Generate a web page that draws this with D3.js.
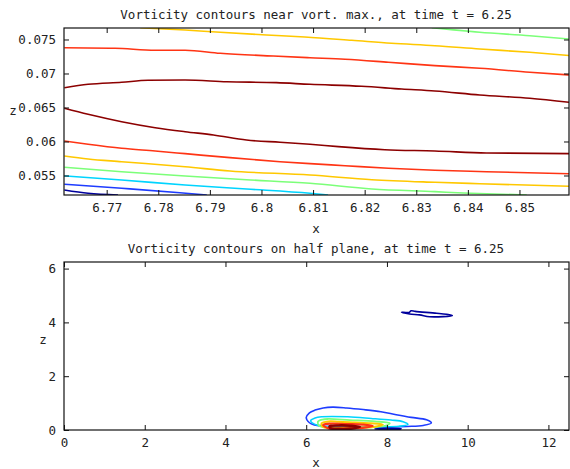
<!DOCTYPE html>
<html><head><meta charset="utf-8">
<script src="https://cdn.jsdelivr.net/npm/d3@7"></script>
<style>
body{margin:0;background:#fff}
text{font-family:"DejaVu Sans Mono","Liberation Mono",monospace;font-size:12.5px;fill:#222}
</style>
</head><body><svg id="c" width="570" height="469"></svg>
<script>
// ---------- data ----------
const topTitle = "Vorticity contours near vort. max., at time t = 6.25";
const bottomTitle = "Vorticity contours on half plane, at time t = 6.25";
const topXTicks = [6.77, 6.78, 6.79, 6.80, 6.81, 6.82, 6.83, 6.84, 6.85];
const topXTickLabels = ["6.77","6.78","6.79","6.8","6.81","6.82","6.83","6.84","6.85"];
const topYTicks = [0.055, 0.06, 0.065, 0.07, 0.075];
const topYTickLabels = ["0.055","0.06","0.065","0.07","0.075"];
const botXTicks = [0, 2, 4, 6, 8, 10, 12];
const botYTicks = [0, 2, 4, 6];

const levelColors = ["#00009c","#1e3cff","#00d4ff","#7cff79","#ffc800","#ff3414","#8c0000"];

// top panel contour lines: [x, z]
const lineNavy = [[6.7618,0.05287],[6.7664,0.05238],[6.7722,0.05213]];
const lineBlue = [[6.7618,0.05371],[6.7729,0.05312],[6.7842,0.05247],[6.7894,0.05213]];
const lineCyan = [[6.7618,0.05493],[6.7729,0.05434],[6.7852,0.05360],[6.7971,0.05301],[6.8094,0.05238],[6.8129,0.05213]];
const lineGreenLow = [[6.7618,0.05621],[6.7729,0.05556],[6.7852,0.05493],[6.7971,0.05438],[6.8094,0.05385],[6.8214,0.05301],[6.8336,0.05262],[6.8391,0.05243],[6.8514,0.05213]];
const lineGreenTop = [[6.8330,0.07674],[6.8423,0.07606],[6.8520,0.07556],[6.8596,0.07507]];
const lineYellowLow = [[6.7618,0.05787],[6.7664,0.05743],[6.7729,0.05703],[6.7852,0.05629],[6.7939,0.05566],[6.8094,0.05507],[6.8214,0.05438],[6.8336,0.05400],[6.8423,0.05379],[6.8596,0.05341]];
const lineYellowTop = [[6.7765,0.07674],[6.7852,0.07640],[6.7920,0.07606],[6.8010,0.07566],[6.8084,0.07537],[6.8175,0.07488],[6.8252,0.07444],[6.8336,0.07409],[6.8423,0.07360],[6.8520,0.07312],[6.8596,0.07265]];
const lineRedLow = [[6.7618,0.06007],[6.7664,0.05959],[6.7729,0.05900],[6.7794,0.05860],[6.7852,0.05821],[6.7939,0.05762],[6.8036,0.05703],[6.8094,0.05674],[6.8162,0.05644],[6.8246,0.05606],[6.8336,0.05576],[6.8436,0.05556],[6.8596,0.05526]];
const lineRedTop = [[6.7618,0.07379],[6.7716,0.07371],[6.7794,0.07341],[6.7852,0.07341],[6.7920,0.07297],[6.8023,0.07257],[6.8094,0.07232],[6.8162,0.07209],[6.8246,0.07165],[6.8336,0.07115],[6.8423,0.07076],[6.8520,0.07018],[6.8596,0.06978]];
const lineDarkLow = [[6.7618,0.06488],[6.7664,0.06400],[6.7729,0.06291],[6.7794,0.06203],[6.7852,0.06144],[6.7907,0.06096],[6.7971,0.06022],[6.8036,0.05988],[6.8094,0.05959],[6.8149,0.05924],[6.8239,0.05879],[6.8336,0.05860],[6.8436,0.05831],[6.8596,0.05821]];
const lineDarkTop = [[6.7618,0.06791],[6.7664,0.06841],[6.7729,0.06871],[6.7780,0.06900],[6.7852,0.06904],[6.7933,0.06879],[6.8029,0.06865],[6.8094,0.06841],[6.8194,0.06812],[6.8272,0.06772],[6.8336,0.06743],[6.8423,0.06684],[6.8520,0.06635],[6.8596,0.06576]];

// bottom panel closed contours: [x, z]
const loopBlue = [[6.00,0.46],[6.08,0.64],[6.22,0.74],[6.42,0.82],[6.66,0.85],[7.00,0.82],[7.41,0.76],[7.85,0.68],[8.23,0.57],[8.60,0.47],[8.98,0.38],[9.10,0.26],[8.90,0.17],[8.50,0.13],[7.80,0.10],[7.00,0.12],[6.40,0.15],[6.20,0.19],[6.08,0.27]];
const loopCyan = [[6.11,0.35],[6.22,0.45],[6.38,0.49],[7.03,0.49],[7.61,0.43],[8.10,0.37],[8.40,0.31],[8.52,0.21],[8.30,0.14],[7.82,0.12],[7.10,0.11],[6.58,0.11],[6.25,0.19]];
const loopGreen = [[6.29,0.31],[6.40,0.39],[6.55,0.41],[7.08,0.37],[7.70,0.32],[8.07,0.25],[7.95,0.15],[7.70,0.11],[7.00,0.09],[6.58,0.09],[6.33,0.15]];
const loopYellow = [[6.38,0.25],[6.55,0.32],[6.80,0.31],[7.20,0.28],[7.60,0.25],[7.90,0.20],[7.70,0.12],[7.33,0.09],[6.90,0.07],[6.53,0.07],[6.40,0.14]];
const loopRed = [[6.42,0.19],[6.60,0.24],[7.00,0.22],[7.40,0.20],[7.65,0.15],[7.40,0.08],[6.90,0.05],[6.55,0.06]];
const loopDark = [[6.58,0.14],[6.80,0.17],[7.10,0.16],[7.33,0.12],[7.10,0.05],[6.80,0.04],[6.60,0.07]];
const loopNavyBase = [[7.70,0.04],[8.00,0.06],[8.35,0.05],[8.30,0.02],[8.00,0.02]];
const loopNavyHigh = [[8.36,4.38],[8.55,4.37],[8.60,4.43],[8.70,4.41],[9.23,4.34],[9.47,4.30],[9.62,4.25],[9.06,4.21],[8.81,4.28],[8.56,4.31]];

// ---------- drawing ----------
const svg = d3.select("#c");

function panel(opt) {
  const x = d3.scaleLinear().domain(opt.xDomain).range([opt.left, opt.right]);
  const y = d3.scaleLinear().domain(opt.yDomain).range([opt.bottom, opt.top]);
  const g = svg.append("g");
  const clipId = opt.id + "clip";
  svg.append("clipPath").attr("id", clipId).append("rect")
    .attr("x", opt.left).attr("y", opt.top).attr("width", opt.right - opt.left).attr("height", opt.bottom - opt.top);
  const plot = g.append("g").attr("clip-path", `url(#${clipId})`);
  const fmtX = opt.xLabels ? (d, i) => opt.xLabels[i] : d3.format("d");
  const fmtY = opt.yLabels ? (d, i) => opt.yLabels[i] : d3.format("d");
  const ax = (sel) => sel.selectAll(".domain").remove();
  g.append("g").attr("transform", `translate(0,${opt.bottom})`)
    .call(d3.axisBottom(x).tickValues(opt.xTicks).tickFormat(fmtX).tickSizeInner(-5).tickSizeOuter(0).tickPadding(8)).call(ax);
  g.append("g").attr("transform", `translate(0,${opt.top})`)
    .call(d3.axisTop(x).tickValues(opt.xTicks).tickFormat("").tickSizeInner(-5).tickSizeOuter(0)).call(ax);
  g.append("g").attr("transform", `translate(${opt.left},0)`)
    .call(d3.axisLeft(y).tickValues(opt.yTicks).tickFormat(fmtY).tickSizeInner(-5).tickSizeOuter(0).tickPadding(8)).call(ax);
  g.append("g").attr("transform", `translate(${opt.right},0)`)
    .call(d3.axisRight(y).tickValues(opt.yTicks).tickFormat("").tickSizeInner(-5).tickSizeOuter(0)).call(ax);
  g.selectAll(".tick line").attr("stroke", "#111");
  g.selectAll(".tick text").attr("font-size", null).attr("font-family", null).attr("fill", "#222");
  g.append("rect").attr("x", opt.left).attr("y", opt.top).attr("width", opt.right - opt.left).attr("height", opt.bottom - opt.top)
    .attr("fill", "none").attr("stroke", "#111").attr("stroke-width", 1.2);
  g.append("text").attr("x", opt.titleX).attr("y", opt.titleY).attr("text-anchor", "middle").text(opt.title);
  g.append("text").attr("x", opt.titleX).attr("y", opt.xLabelY).attr("text-anchor", "middle").text("x");
  g.append("text").attr("x", opt.zLabelX).attr("y", opt.zLabelY).attr("text-anchor", "middle").attr("dominant-baseline", "middle").text("z");
  return {x, y, plot};
}

// top panel
const P1 = panel({id: "p1", left: 64, right: 569, top: 28, bottom: 195,
  xDomain: [6.76173, 6.8596], yDomain: [0.05213, 0.07669],
  xTicks: topXTicks, xLabels: topXTickLabels, yTicks: topYTicks, yLabels: topYTickLabels,
  title: topTitle, titleX: 316, titleY: 19, xLabelY: 233, zLabelX: 13, zLabelY: 111});

const topLines = [
  {d: lineNavy, c: levelColors[0]}, {d: lineBlue, c: levelColors[1]}, {d: lineCyan, c: levelColors[2]},
  {d: lineGreenLow, c: levelColors[3]}, {d: lineGreenTop, c: levelColors[3]},
  {d: lineYellowLow, c: levelColors[4]}, {d: lineYellowTop, c: levelColors[4]},
  {d: lineRedLow, c: levelColors[5]}, {d: lineRedTop, c: levelColors[5]},
  {d: lineDarkLow, c: levelColors[6]}, {d: lineDarkTop, c: levelColors[6]}
];
const l1 = d3.line().x(d => P1.x(d[0])).y(d => P1.y(d[1])).curve(d3.curveMonotoneX);
P1.plot.selectAll("path.c").data(topLines).join("path").attr("class", "c")
  .attr("d", d => l1(d.d)).attr("fill", "none").attr("stroke", d => d.c).attr("stroke-width", 1.6);

// bottom panel
const P2 = panel({id: "p2", left: 64, right: 569, top: 262, bottom: 430,
  xDomain: [0, 12.51], yDomain: [0, 6.245],
  xTicks: botXTicks, yTicks: botYTicks,
  title: bottomTitle, titleX: 316, titleY: 253, xLabelY: 467, zLabelX: 43, zLabelY: 340});

const botLoops = [
  {d: loopBlue, c: levelColors[1], w: 1.6}, {d: loopCyan, c: levelColors[2], w: 1.6}, {d: loopGreen, c: levelColors[3], w: 1.8},
  {d: loopYellow, c: levelColors[4], w: 2}, {d: loopRed, c: levelColors[5], w: 2.2}, {d: loopDark, c: levelColors[6], w: 2.6},
  {d: loopNavyBase, c: levelColors[0], w: 1.6}, {d: loopNavyHigh, c: levelColors[0], w: 1.6}
];
const l2 = d3.line().x(d => P2.x(d[0])).y(d => P2.y(d[1])).curve(d3.curveCatmullRomClosed.alpha(0.5));
P2.plot.selectAll("path.c").data(botLoops).join("path").attr("class", "c")
  .attr("d", d => l2(d.d)).attr("fill", "none").attr("stroke", d => d.c).attr("stroke-width", d => d.w);
</script>
</body></html>
